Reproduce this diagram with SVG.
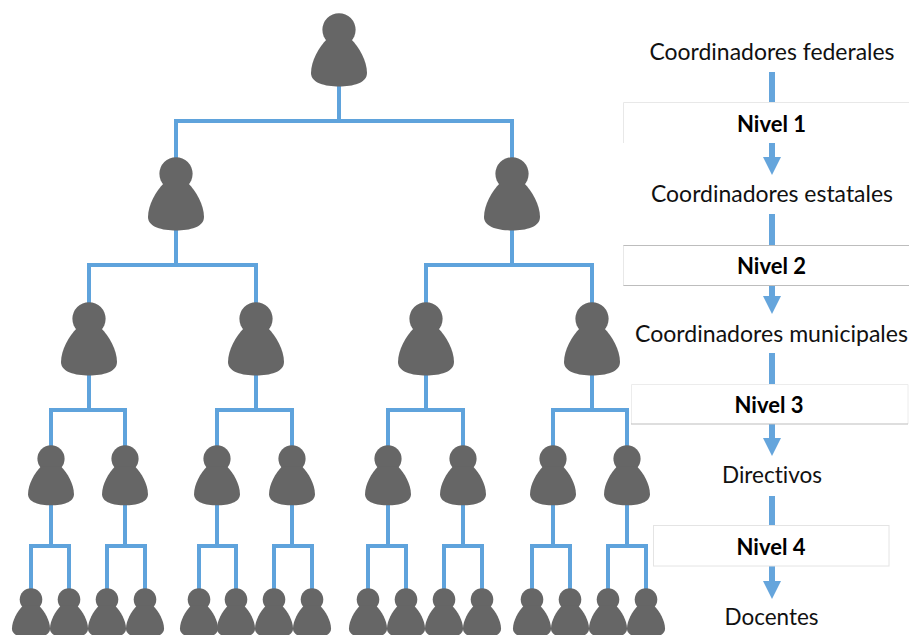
<svg xmlns="http://www.w3.org/2000/svg" xmlns:xlink="http://www.w3.org/1999/xlink" width="909" height="635" viewBox="0 0 909 635">
<style>
.c{fill:none;stroke:#5fa3dc;stroke-width:4}
.s{fill:none;stroke:#65a5dc;stroke-width:6}
.h{fill:#65a5dc}
.p{fill:#666}
.b{fill:#fff;stroke:none}
.e{stroke-width:1;fill:none}
.t{font-family:Lato,"Open Sans",sans-serif;font-size:23px;fill:#111;text-anchor:middle}
.n{font-family:Lato,"Open Sans",sans-serif;font-size:23px;font-weight:700;fill:#000;text-anchor:middle}
</style>
<defs>
<g id="person"><circle cx="0" cy="16.8" r="16.6"/><path d="M-12,26 C-20,34 -28,48 -28,60 C-28,70 -14,73.500 0,73.500 C14,73.500 28,70 28,60 C28,48 20,34 12,26 Z"/></g>
<path id="head" d="M-9,0 H9 L0,18 Z"/>
</defs>
<rect width="909" height="635" fill="#fff"/>
<g id="connectors">
<path class="c" d="M339,85V121M176,160V121H512V160"/>
<path class="c" d="M176,228V265M89,305V265H256V305M512,228V265M426,305V265H592V305"/>
<path class="c" d="M89,373V410M51,448V410H125V448M256,373V410M217,448V410H292V448M426,373V410M388,448V410H463V448M592,373V410M553,448V410H627V448"/>
<path class="c" d="M51,503V546M31,590V546H69V590M125,503V546M107,590V546H145V590M217,503V546M199,590V546H236V590M292,503V546M274,590V546H312V590M388,503V546M368,590V546H406V590M463,503V546M444,590V546H482V590M553,503V546M532,590V546H570V590M627,503V546M608,590V546H646V590"/>
</g>
<g id="p1" class="p"><use xlink:href="#person" transform="translate(339,13)"/></g>
<g id="p2a" class="p"><use xlink:href="#person" transform="translate(176,157)"/></g>
<g id="p2b" class="p"><use xlink:href="#person" transform="translate(512,157)"/></g>
<g id="p3a" class="p"><use xlink:href="#person" transform="translate(89,302)"/></g>
<g id="p3b" class="p"><use xlink:href="#person" transform="translate(256,302)"/></g>
<g id="p3c" class="p"><use xlink:href="#person" transform="translate(426,302)"/></g>
<g id="p3d" class="p"><use xlink:href="#person" transform="translate(592,302)"/></g>
<g id="p4a" class="p"><use xlink:href="#person" transform="translate(51,445) scale(.82)"/></g>
<g id="p4b" class="p"><use xlink:href="#person" transform="translate(125,445) scale(.82)"/></g>
<g id="p4c" class="p"><use xlink:href="#person" transform="translate(217,445) scale(.82)"/></g>
<g id="p4d" class="p"><use xlink:href="#person" transform="translate(292,445) scale(.82)"/></g>
<g id="p4e" class="p"><use xlink:href="#person" transform="translate(388,445) scale(.82)"/></g>
<g id="p4f" class="p"><use xlink:href="#person" transform="translate(463,445) scale(.82)"/></g>
<g id="p4g" class="p"><use xlink:href="#person" transform="translate(553,445) scale(.82)"/></g>
<g id="p4h" class="p"><use xlink:href="#person" transform="translate(627,445) scale(.82)"/></g>
<g id="p5a" class="p"><use xlink:href="#person" transform="translate(31,588) scale(.68)"/></g>
<g id="p5b" class="p"><use xlink:href="#person" transform="translate(69,588) scale(.68)"/></g>
<g id="p5c" class="p"><use xlink:href="#person" transform="translate(107,588) scale(.68)"/></g>
<g id="p5d" class="p"><use xlink:href="#person" transform="translate(145,588) scale(.68)"/></g>
<g id="p5e" class="p"><use xlink:href="#person" transform="translate(199,588) scale(.68)"/></g>
<g id="p5f" class="p"><use xlink:href="#person" transform="translate(236,588) scale(.68)"/></g>
<g id="p5g" class="p"><use xlink:href="#person" transform="translate(274,588) scale(.68)"/></g>
<g id="p5h" class="p"><use xlink:href="#person" transform="translate(312,588) scale(.68)"/></g>
<g id="p5i" class="p"><use xlink:href="#person" transform="translate(368,588) scale(.68)"/></g>
<g id="p5j" class="p"><use xlink:href="#person" transform="translate(406,588) scale(.68)"/></g>
<g id="p5k" class="p"><use xlink:href="#person" transform="translate(444,588) scale(.68)"/></g>
<g id="p5l" class="p"><use xlink:href="#person" transform="translate(482,588) scale(.68)"/></g>
<g id="p5m" class="p"><use xlink:href="#person" transform="translate(532,588) scale(.68)"/></g>
<g id="p5n" class="p"><use xlink:href="#person" transform="translate(570,588) scale(.68)"/></g>
<g id="p5o" class="p"><use xlink:href="#person" transform="translate(608,588) scale(.68)"/></g>
<g id="p5p" class="p"><use xlink:href="#person" transform="translate(646,588) scale(.68)"/></g>
<g id="arrows">
<path class="s" d="M772,72V103M772,143V158M772,214V245M772,286V297M772,353V385M772,424V439M772,496V526M772,566V582"/>
<use class="h" xlink:href="#head" transform="translate(772,157)"/>
<use class="h" xlink:href="#head" transform="translate(772,296)"/>
<use class="h" xlink:href="#head" transform="translate(772,438)"/>
<use class="h" xlink:href="#head" transform="translate(772,581)"/>
</g>
<g id="l-federales"><text class="t" x="772" y="60" textLength="245" lengthAdjust="spacingAndGlyphs">Coordinadores federales</text></g>
<g id="nivel1"><rect class="b" x="624" y="103" width="285" height="40"/><path class="e" stroke="#e8e8e8" d="M909,102.500H623.500V143"/><text class="n" x="771.500" y="131.500" textLength="69" lengthAdjust="spacingAndGlyphs">Nivel 1</text></g>
<g id="l-estatales"><text class="t" x="772" y="202" textLength="242" lengthAdjust="spacingAndGlyphs">Coordinadores estatales</text></g>
<g id="nivel2"><rect class="b" x="624" y="245" width="285" height="41"/><path class="e" stroke="#e8e8e8" d="M623.500,245V286"/><path class="e" stroke="#bdbdbd" d="M909,245.500H623.500M623.500,285.500H909"/><text class="n" x="771.500" y="273.500" textLength="69" lengthAdjust="spacingAndGlyphs">Nivel 2</text></g>
<g id="l-municipales"><text class="t" x="771.500" y="342" textLength="273" lengthAdjust="spacingAndGlyphs">Coordinadores municipales</text></g>
<g id="nivel3"><rect class="b" x="631" y="385" width="277" height="39"/><path class="e" stroke="#ececec" d="M631.500,424V384.500H908V424"/><path class="e" stroke="#bdbdbd" d="M631,424H908"/><text class="n" x="769" y="412.500" textLength="69" lengthAdjust="spacingAndGlyphs">Nivel 3</text></g>
<g id="l-directivos"><text class="t" x="772" y="483" textLength="100" lengthAdjust="spacingAndGlyphs" style="font-variant-ligatures:none">Directivos</text></g>
<g id="nivel4"><rect class="b" x="653" y="526" width="236" height="40"/><rect class="e" stroke="#e4e4e4" x="653.500" y="525.500" width="235.500" height="40.500"/><text class="n" x="771" y="554.500" textLength="69" lengthAdjust="spacingAndGlyphs">Nivel 4</text></g>
<g id="l-docentes"><text class="t" x="771.500" y="625" textLength="94" lengthAdjust="spacingAndGlyphs">Docentes</text></g>
</svg>
